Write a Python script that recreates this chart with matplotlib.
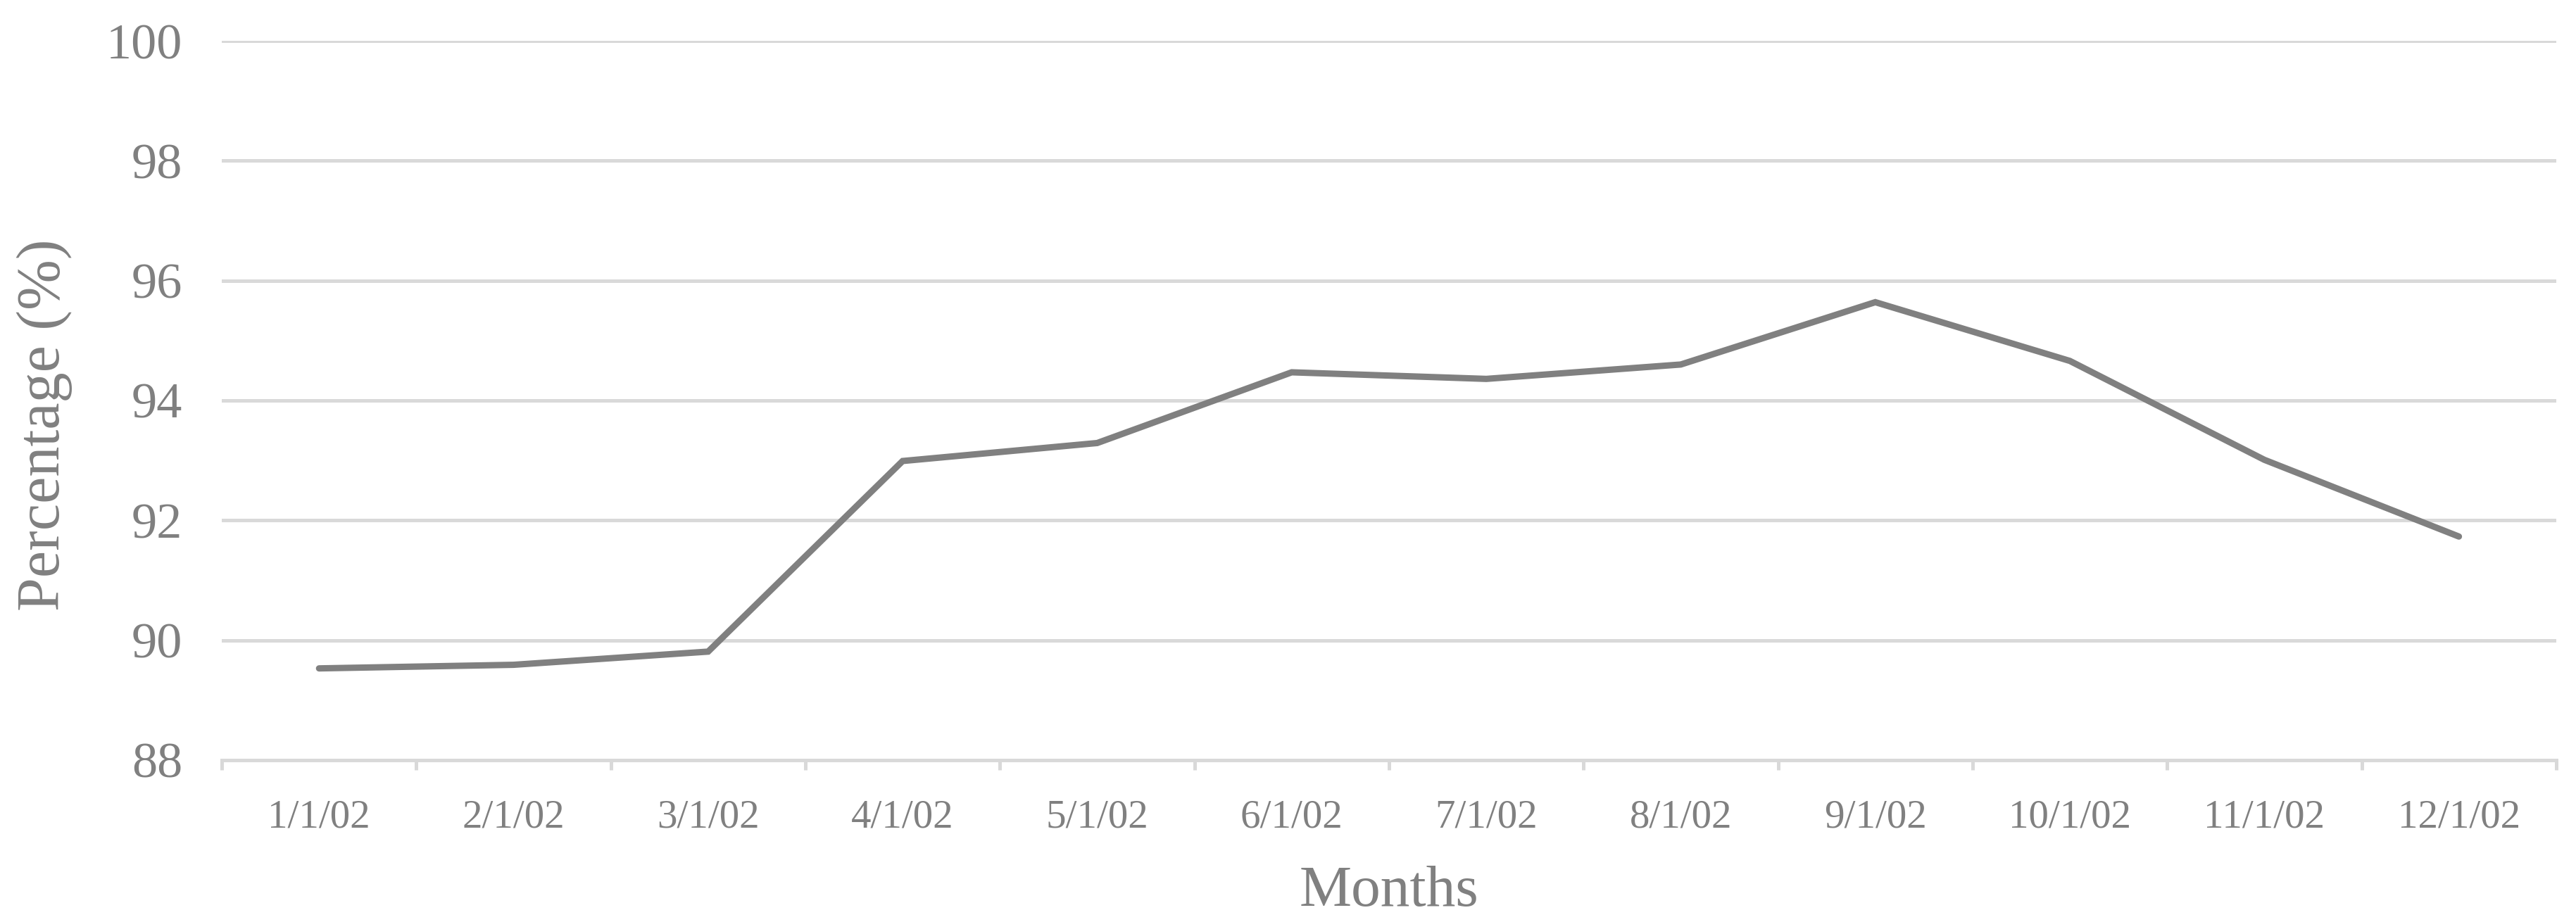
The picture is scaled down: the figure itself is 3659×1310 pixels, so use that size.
import numpy as np
import matplotlib
matplotlib.use("Agg")
import matplotlib.pyplot as plt

# Data
months = ["1/1/02", "2/1/02", "3/1/02", "4/1/02", "5/1/02", "6/1/02",
          "7/1/02", "8/1/02", "9/1/02", "10/1/02", "11/1/02", "12/1/02"]
percentage = [89.53, 89.59, 89.81, 92.99, 93.29, 94.47,
              94.36, 94.60, 95.64, 94.66, 93.01, 91.73]
y_ticks = [88, 90, 92, 94, 96, 98, 100]

TEXT = "#808080"
GRID = "#d9d9d9"

plt.rcParams['font.family'] = ['Liberation Serif', 'DejaVu Serif']

fig = plt.figure(figsize=(36.59, 13.10), dpi=100)
ax = fig.add_axes([0.0861, 0.1756, 0.9062, 0.7801])

x = np.arange(len(months))
ax.plot(x, percentage, color="#808080", linewidth=6.5, solid_joinstyle="miter",
        solid_capstyle="round", zorder=3)

ax.set_xlim(-0.5, len(months) - 0.5)
ax.set_ylim(88, 100)

# gridlines
ax.set_yticks(y_ticks)
ax.yaxis.grid(True, color=GRID, linewidth=3.6)
ax.set_axisbelow(True)
ax.tick_params(axis="y", length=0, pad=40, labelsize=52, labelcolor=TEXT)

# category labels at centres, tick marks at boundaries
ax.set_xticks(x)
ax.set_xticklabels(months)
ax.set_xticks(np.arange(-0.5, len(months)), minor=True)
ax.tick_params(axis="x", which="major", length=0, pad=40, labelsize=41, labelcolor=TEXT)
ax.tick_params(axis="x", which="minor", length=10, width=3.6, color=GRID)

for side in ["top", "right", "left"]:
    ax.spines[side].set_visible(False)
ax.spines["bottom"].set_color(GRID)
ax.spines["bottom"].set_linewidth(3.6)

ax.set_xlabel("Months", fontsize=60, color=TEXT, labelpad=30)
ax.set_ylabel("Percentage (%)", fontsize=62, color=TEXT)
ax.yaxis.set_label_coords(-0.064, 0.466)

fig.savefig("out.png", dpi=100)
